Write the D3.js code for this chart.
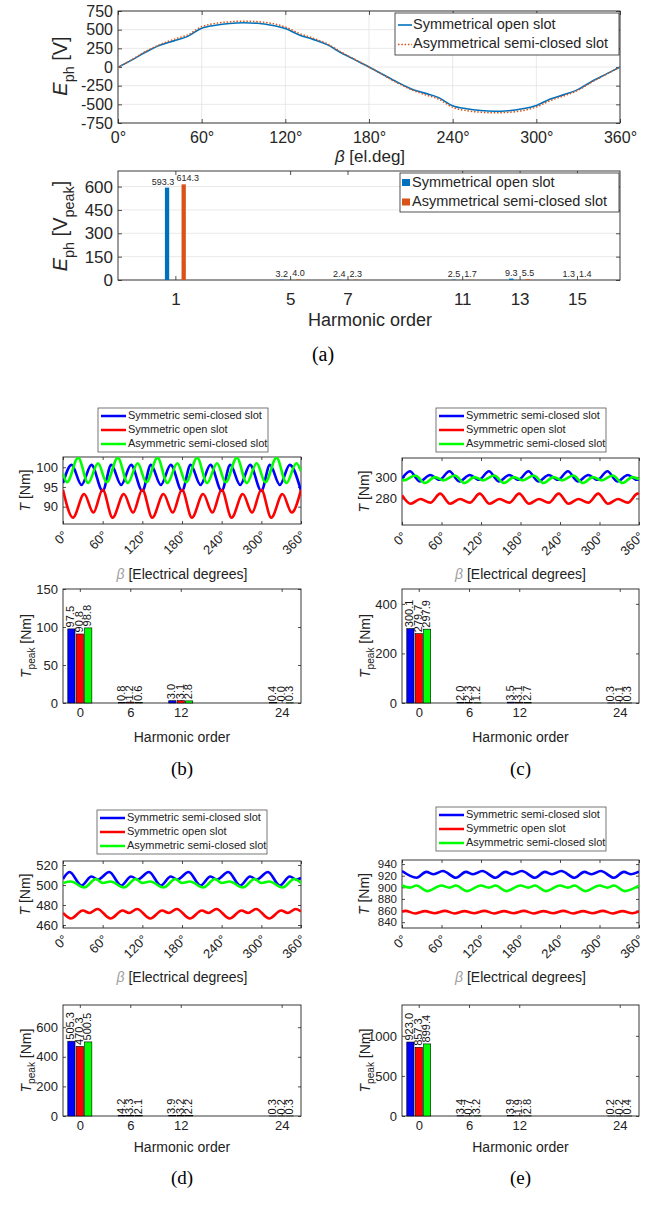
<!DOCTYPE html>
<html>
<head>
<meta charset="utf-8">
<script src="https://cdn.jsdelivr.net/npm/d3@7"></script>
<style>
  body { margin: 0; background: #fff; }
</style>
</head>
<body>
<script>
// ---------------- (a) back-EMF ----------------
const emfNames = ["Symmetrical open slot", "Asymmetrical semi-closed slot"];
// [angle el.deg, E_ph V]
const emfOpen = [[0,-5],[10,95],[20,200],[30,290],[40,350],[50,410],[60,520],[70,560],[80,583],[90,592],[100,585],[110,560],[120,515],[130,430],[140,370],[150,300],[160,190],[170,95],[180,0],[190,-100],[200,-200],[210,-290],[220,-350],[230,-410],[240,-520],[250,-560],[260,-583],[270,-592],[280,-585],[290,-560],[300,-515],[310,-430],[320,-370],[330,-300],[340,-190],[350,-95],[360,0]];
const emfAsym = [[0,-5],[10,100],[20,210],[30,300],[40,370],[50,430],[60,540],[70,585],[80,605],[90,614],[100,607],[110,585],[120,535],[130,450],[140,385],[150,310],[160,200],[170,100],[180,0],[190,-105],[200,-210],[210,-300],[220,-370],[230,-430],[240,-540],[250,-585],[260,-605],[270,-614],[280,-607],[290,-585],[300,-535],[310,-450],[320,-385],[330,-310],[340,-200],[350,-100],[360,0]];
const emfOrders = [1, 5, 7, 11, 13, 15];
const emfOpenPeak = [593.3, 3.2, 2.4, 2.5, 9.3, 1.3];
const emfAsymPeak = [614.3, 4.0, 2.3, 1.7, 5.5, 1.4];
const emfYTicks = [-750, -500, -250, 0, 250, 500, 750];
const emfPeakTicks = [0, 150, 300, 450, 600];
const angleTicks = [0, 60, 120, 180, 240, 300, 360];

// ---------------- (b)-(e) torque ----------------
const torqueNames = ["Symmetric semi-closed slot", "Symmetric open slot", "Asymmetric semi-closed slot"];
const torqueColors = ["#0000ff", "#ff0000", "#00ff00"];
const torqueOrders = [0, 6, 12, 24];

// harmonic peaks [order][semi-closed, open, asym]
const peakB = [[97.5, 90.8, 98.8], [0.8, 1.2, 0.6], [3.0, 3.1, 2.8], [0.4, 0.0, 0.3]];
const peakC = [[300.1, 279.7, 297.9], [2.0, 2.3, 1.2], [3.5, 3.1, 2.7], [0.3, 0.1, 0.3]];
const peakD = [[505.3, 470.3, 500.5], [4.2, 3.3, 2.1], [3.9, 3.2, 2.2], [0.3, 0.2, 0.3]];
const peakE = [[923.0, 857.3, 899.4], [3.4, 0.7, 3.2], [3.9, 1.9, 2.8], [0.2, 0.2, 0.4]];

// torque waveforms [angle, T Nm]
const waveBSemi = [[0,96],[13,100.6],[28,95.5],[43,100.6],[60,94],[73,100.6],[88,95.5],[103,100.6],[120,94],[133,100.6],[148,95.5],[163,100.6],[180,94],[193,100.6],[208,95.5],[223,100.6],[240,94],[253,100.6],[268,95.5],[283,100.6],[300,94],[313,100.6],[328,95.5],[343,100.6],[360,94]];
const waveBOpen = [[0,94.3],[15,87.2],[32,93.2],[46,88.5],[60,94.3],[75,87.2],[92,93.2],[106,88.5],[120,94.3],[135,87.2],[152,93.2],[166,88.5],[180,94.3],[195,87.2],[212,93.2],[226,88.5],[240,94.3],[255,87.2],[272,93.2],[286,88.5],[300,94.3],[315,87.2],[332,93.2],[346,88.5],[360,94.3]];
const waveBAsym = [[0,98.5],[6,96.2],[23,102.4],[38,96],[53,101],[66,96.2],[83,102.4],[98,96],[113,101],[126,96.2],[143,102.4],[158,96],[173,101],[186,96.2],[203,102.4],[218,96],[233,101],[246,96.2],[263,102.4],[278,96],[293,101],[306,96.2],[323,102.4],[338,96],[353,101],[360,99]];

const waveCSemi = [[0,298.5],[12,305.5],[27,296],[43,302],[57,297.5],[72,305.5],[87,296],[103,302],[117,297.5],[132,305.5],[147,296],[163,302],[177,297.5],[192,305.5],[207,296],[223,302],[237,297.5],[252,305.5],[267,296],[283,302],[297,297.5],[312,305.5],[327,296],[343,302],[357,297.5],[360,298]];
const waveCOpen = [[0,283],[13,275],[28,279.5],[43,276],[58,284.5],[73,275],[88,279.5],[103,276],[118,284.5],[133,275],[148,279.5],[163,276],[178,284.5],[193,275],[208,279.5],[223,276],[238,284.5],[253,275],[268,279.5],[283,276],[298,284.5],[313,275],[328,279.5],[343,276],[358,284.5],[360,284.3]];
const waveCAsym = [[0,298],[3,297],[20,301.5],[35,294.5],[50,300],[63,297],[80,301.5],[95,294.5],[110,300],[123,297],[140,301.5],[155,294.5],[170,300],[183,297],[200,301.5],[215,294.5],[230,300],[243,297],[260,301.5],[275,294.5],[290,300],[303,297],[320,301.5],[335,294.5],[350,300],[360,298]];

const waveDSemi = [[0,506],[10,513],[28,499.5],[43,508.5],[53,505.5],[70,513],[88,499.5],[103,508.5],[113,505.5],[130,513],[148,499.5],[163,508.5],[173,505.5],[190,513],[208,499.5],[223,508.5],[233,505.5],[250,513],[268,499.5],[283,508.5],[293,505.5],[310,513],[328,499.5],[343,508.5],[353,505.5],[360,507]];
const waveDOpen = [[0,472],[12,466.5],[30,474.5],[40,472],[52,476],[72,466.5],[90,474.5],[100,472],[112,476],[132,466.5],[150,474.5],[160,472],[172,476],[192,466.5],[210,474.5],[220,472],[232,476],[252,466.5],[270,474.5],[280,472],[292,476],[312,466.5],[330,474.5],[340,472],[352,476],[360,473.5]];
const waveDAsym = [[0,502],[12,503.5],[32,497.5],[50,506],[60,502],[72,503.5],[92,497.5],[110,506],[120,502],[132,503.5],[152,497.5],[170,506],[180,502],[192,503.5],[212,497.5],[230,506],[240,502],[252,503.5],[272,497.5],[290,506],[300,502],[312,503.5],[332,497.5],[350,506],[360,502]];

const waveESemi = [[0,928],[22,916.5],[37,926.5],[48,922.5],[62,928],[82,916.5],[97,926.5],[108,922.5],[122,928],[142,916.5],[157,926.5],[168,922.5],[182,928],[202,916.5],[217,926.5],[228,922.5],[242,928],[262,916.5],[277,926.5],[288,922.5],[302,928],[322,916.5],[337,926.5],[348,922.5],[360,927]];
const waveEOpen = [[0,858],[5,859.5],[20,855],[35,859],[50,855.5],[65,859.5],[80,855],[95,859],[110,855.5],[125,859.5],[140,855],[155,859],[170,855.5],[185,859.5],[200,855],[215,859],[230,855.5],[245,859.5],[260,855],[275,859],[290,855.5],[305,859.5],[320,855],[335,859],[350,855.5],[360,858.5]];
const waveEAsym = [[0,903],[12,899.5],[22,903],[38,893.5],[60,903],[72,899.5],[82,903],[98,893.5],[120,903],[132,899.5],[142,903],[158,893.5],[180,903],[192,899.5],[202,903],[218,893.5],[240,903],[252,899.5],[262,903],[278,893.5],[300,903],[312,899.5],[322,903],[338,893.5],[360,903]];

// ---------------- drawing ----------------
const FONT = '"Liberation Sans", Arial, Helvetica, sans-serif';
const SERIF = '"Liberation Serif", "Times New Roman", serif';
const fmt1 = d3.format(".1f");

const svg = d3.select("body").append("svg")
  .attr("width", 647).attr("height", 1207)
  .attr("font-family", FONT);
svg.append("rect").attr("width", 647).attr("height", 1207).attr("fill", "#fff");

let clipId = 0;

// inward ticks on all four sides plus the box
function axes(g, x, y, o) {
  const [x0, x1] = x.range(), [yb, yt] = y.range();
  const t = o.tick || 4, col = o.color || "#000";
  const bottom = g.append("g").attr("transform", `translate(0,${yb})`)
    .call(d3.axisBottom(x).tickValues(o.xTicks).tickFormat(o.xFmt || (d => d))
      .tickSizeInner(-t).tickSizeOuter(0).tickPadding(o.xPad || 6));
  const left = g.append("g").attr("transform", `translate(${x0},0)`)
    .call(d3.axisLeft(y).tickValues(o.yTicks).tickFormat(o.yFmt || (d => d))
      .tickSizeInner(-t).tickSizeOuter(0).tickPadding(o.yPad || 6));
  const top = g.append("g").attr("transform", `translate(0,${yt})`)
    .call(d3.axisTop(x).tickValues(o.xTicks).tickFormat("").tickSizeInner(-t).tickSizeOuter(0));
  const right = g.append("g").attr("transform", `translate(${x1},0)`)
    .call(d3.axisRight(y).tickValues(o.yTicks).tickFormat("").tickSizeInner(-t).tickSizeOuter(0));
  [bottom, left, top, right].forEach(a => {
    a.attr("font-family", FONT).attr("font-size", o.font);
    a.select(".domain").remove();
    a.selectAll("line").attr("stroke", col).attr("stroke-width", 0.8);
    a.selectAll("text").attr("fill", col);
  });
  left.selectAll("text").attr("font-size", o.yFont || o.font);
  g.append("rect").attr("x", x0).attr("y", yt).attr("width", x1 - x0).attr("height", yb - yt)
    .attr("fill", "none").attr("stroke", col).attr("stroke-width", 0.9);
  return { bottom, left };
}

function clip(x, y) {
  const id = "clip" + (clipId++);
  const [x0, x1] = x.range(), [yb, yt] = y.range();
  svg.append("clipPath").attr("id", id).append("rect")
    .attr("x", x0).attr("y", yt).attr("width", x1 - x0).attr("height", yb - yt);
  return `url(#${id})`;
}

// rich label: parts = [[text, style]] style: i (italic), sub, g (gray)
function richText(g, x, y, parts, size, rotate, fill) {
  const t = g.append("text").attr("x", x).attr("y", y)
    .attr("text-anchor", "middle").attr("dominant-baseline", "middle")
    .attr("font-size", size).attr("fill", fill || "#000");
  if (rotate) t.attr("transform", `rotate(-90,${x},${y})`);
  parts.forEach(([s, st]) => {
    const ts = t.append("tspan").text(s);
    if (st && st.includes("i")) ts.attr("font-style", "italic");
    if (st && st.includes("sub")) ts.attr("baseline-shift", "sub").attr("font-size", size * 0.72);
    if (st && st.includes("g")) ts.attr("fill", "#a0a0a0");
  });
  return t;
}

// ---------- (a) top: waveform ----------
(function () {
  const g = svg.append("g");
  const x = d3.scaleLinear([0, 360], [118, 620]);
  const y = d3.scaleLinear([-750, 750], [123, 11]);
  // grid
  g.selectAll(".gx").data(angleTicks).join("line")
    .attr("x1", d => x(d)).attr("x2", d => x(d)).attr("y1", 11).attr("y2", 123)
    .attr("stroke", "#e3e3e3").attr("stroke-width", 0.8);
  g.selectAll(".gy").data(emfYTicks).join("line")
    .attr("x1", 118).attr("x2", 620).attr("y1", d => y(d)).attr("y2", d => y(d))
    .attr("stroke", "#e3e3e3").attr("stroke-width", 0.8);
  const ax = axes(g, x, y, { xTicks: angleTicks, yTicks: emfYTicks, xFmt: d => d + "°", font: 16, color: "#262626", xPad: 10, yPad: 5, tick: 4 });
  ax.bottom.selectAll("text").attr("dy", "0.6em");
  const line = d3.line().x(d => x(d[0])).y(d => y(d[1])).curve(d3.curveMonotoneX);
  const cp = clip(x, y);
  g.append("path").datum(emfOpen).attr("d", line).attr("fill", "none")
    .attr("stroke", "#0072BD").attr("stroke-width", 1.6).attr("clip-path", cp);
  g.append("path").datum(emfAsym).attr("d", line).attr("fill", "none")
    .attr("stroke", "#D95319").attr("stroke-width", 1.5).attr("stroke-dasharray", "1.5,1.8").attr("clip-path", cp);
  richText(g, 62, 66, [["E", "i"], ["ph", "sub"], [" [V]", ""]], 20, true, "#262626");
  richText(g, 370, 158, [["β", "i"], [" [el.deg]", ""]], 17, false, "#262626");
  // legend
  const lg = g.append("g");
  lg.append("rect").attr("x", 395).attr("y", 13).attr("width", 224).attr("height", 42)
    .attr("fill", "#fff").attr("stroke", "#262626").attr("stroke-width", 0.8);
  [["#0072BD", null], ["#D95319", "1.5,1.8"]].forEach((s, i) => {
    const yy = 25 + i * 19.5;
    lg.append("line").attr("x1", 398).attr("x2", 412).attr("y1", yy).attr("y2", yy)
      .attr("stroke", s[0]).attr("stroke-width", 1.6).attr("stroke-dasharray", s[1]);
    lg.append("text").attr("x", 413).attr("y", yy).attr("dominant-baseline", "middle")
      .attr("font-size", 14.5).attr("fill", "#262626").text(emfNames[i]);
  });
})();

// ---------- (a) bottom: harmonics ----------
(function () {
  const g = svg.append("g");
  const x = d3.scaleLinear([-1, 16.5], [118, 620]);
  const y = d3.scaleLinear([0, 700], [280, 171]);
  g.selectAll(".gy").data(emfPeakTicks).join("line")
    .attr("x1", 118).attr("x2", 620).attr("y1", d => y(d)).attr("y2", d => y(d))
    .attr("stroke", "#e3e3e3").attr("stroke-width", 0.8);
  const ax = axes(g, x, y, { xTicks: emfOrders, yTicks: emfPeakTicks, font: 17, color: "#262626", xPad: 12, yPad: 5, tick: 4 });
  ax.bottom.selectAll("text").attr("dy", "0.75em");
  const off = 0.29, bw = x(0.15) - x(0);
  const series = [[emfOpenPeak, "#0072BD", -1], [emfAsymPeak, "#D95319", 1]];
  series.forEach(([vals, col, s]) => {
    g.selectAll(null).data(vals).join("rect")
      .attr("x", (d, i) => x(emfOrders[i] + s * off) - bw / 2)
      .attr("width", bw)
      .attr("y", d => y(d)).attr("height", d => y(0) - y(d))
      .attr("fill", col);
    g.selectAll(null).data(vals).join("text")
      .attr("x", (d, i) => x(emfOrders[i] + s * off) + (i === 0 ? s * 4 : 0))
      .attr("y", d => y(d) - 3)
      .attr("text-anchor", "middle").attr("font-size", 9).attr("fill", "#262626")
      .text(d => fmt1(d));
  });
  richText(g, 62, 226, [["E", "i"], ["ph", "sub"], [" [V", ""], ["peak", "sub"], ["]", ""]], 20, true, "#262626");
  g.append("text").attr("x", 370).attr("y", 321).attr("text-anchor", "middle")
    .attr("dominant-baseline", "middle").attr("font-size", 18).attr("fill", "#262626").text("Harmonic order");
  const lg = g.append("g");
  lg.append("rect").attr("x", 400).attr("y", 173).attr("width", 219).attr("height", 39)
    .attr("fill", "#fff").attr("stroke", "#262626").attr("stroke-width", 0.8);
  ["#0072BD", "#D95319"].forEach((c, i) => {
    const yy = 183 + i * 19.5;
    lg.append("rect").attr("x", 402).attr("y", yy - 4).attr("width", 8).attr("height", 7).attr("fill", c);
    lg.append("text").attr("x", 412).attr("y", yy).attr("dominant-baseline", "middle")
      .attr("font-size", 14.5).attr("fill", "#262626").text(emfNames[i]);
  });
  svg.append("text").attr("x", 323).attr("y", 356).attr("text-anchor", "middle")
    .attr("dominant-baseline", "middle").attr("font-family", SERIF).attr("font-size", 20).text("(a)");
})();

// ---------- (b)-(e) torque panels ----------
const panels = [
  { tag: "(b)", left: 63, right: 301, wTop: 457, wBot: 524, wDom: [85.6, 102.6], wTicks: [90, 95, 100],
    betaY: 575, bTop: 589, bBot: 703, bMax: 150, bTicks: [0, 50, 100, 150], lx: 98, ly: 408, hoY: 738, capY: 771,
    waves: [waveBSemi, waveBOpen, waveBAsym], peaks: peakB },
  { tag: "(c)", left: 402, right: 639, wTop: 458, wBot: 525, wDom: [255, 318], wTicks: [280, 300],
    betaY: 575, bTop: 589, bBot: 703, bMax: 460, bTicks: [0, 200, 400], lx: 436, ly: 408, hoY: 738, capY: 771,
    waves: [waveCSemi, waveCOpen, waveCAsym], peaks: peakC },
  { tag: "(d)", left: 63, right: 301, wTop: 861, wBot: 928, wDom: [457, 524], wTicks: [460, 480, 500, 520],
    betaY: 978, bTop: 1005, bBot: 1116, bMax: 750, bTicks: [0, 200, 400, 600], lx: 97, ly: 810, hoY: 1148, capY: 1180,
    waves: [waveDSemi, waveDOpen, waveDAsym], peaks: peakD },
  { tag: "(e)", left: 402, right: 639, wTop: 860, wBot: 928, wDom: [830, 947], wTicks: [840, 860, 880, 900, 920, 940],
    betaY: 978, bTop: 1005, bBot: 1116, bMax: 1385, bTicks: [0, 500, 1000], lx: 436, ly: 807, hoY: 1148, capY: 1180, yFont: 11.5,
    waves: [waveESemi, waveEOpen, waveEAsym], peaks: peakE }
];

panels.forEach(p => {
  const g = svg.append("g");
  const cx = (p.left + p.right) / 2;

  // legend
  const lg = g.append("g");
  lg.append("rect").attr("x", p.lx).attr("y", p.ly).attr("width", 170).attr("height", 44)
    .attr("fill", "#fff").attr("stroke", "#555").attr("stroke-width", 0.8);
  torqueNames.forEach((n, i) => {
    const yy = p.ly + 8 + i * 14;
    lg.append("line").attr("x1", p.lx + 3).attr("x2", p.lx + 28).attr("y1", yy).attr("y2", yy)
      .attr("stroke", torqueColors[i]).attr("stroke-width", 2.5);
    lg.append("text").attr("x", p.lx + 30).attr("y", yy).attr("dominant-baseline", "middle")
      .attr("font-size", 11).attr("fill", "#222").text(n);
  });

  // waveform
  const x = d3.scaleLinear([0, 360], [p.left, p.right]);
  const y = d3.scaleLinear(p.wDom, [p.wBot, p.wTop]);
  const ax = axes(g, x, y, { xTicks: angleTicks, yTicks: p.wTicks, xFmt: d => d + "°", font: 13, yFont: p.yFont, color: "#222", yPad: 5, tick: 3 });
  ax.bottom.selectAll("text")
    .attr("y", 0).attr("dy", "0.35em").attr("x", 0)
    .attr("text-anchor", "end").attr("transform", "translate(2,9) rotate(-45)");
  const line = d3.line().x(d => x(d[0])).y(d => y(d[1])).curve(d3.curveMonotoneX);
  const cp = clip(x, y);
  p.waves.forEach((w, i) => {
    g.append("path").datum(w).attr("d", line).attr("fill", "none")
      .attr("stroke", torqueColors[i]).attr("stroke-width", 2.6).attr("clip-path", cp);
  });
  richText(g, p.left - 37, (p.wTop + p.wBot) / 2, [["T", "i"], [" [Nm]", ""]], 14, true, "#222");
  richText(g, cx, p.betaY, [["β", "ig"], [" [Electrical degrees]", ""]], 14, false, "#222");

  // harmonic bars
  const xb = d3.scaleLinear([-2, 26.3], [p.left, p.right]);
  const yb = d3.scaleLinear([0, p.bMax], [p.bBot, p.bTop]);
  axes(g, xb, yb, { xTicks: torqueOrders, yTicks: p.bTicks, font: 13, color: "#222", yPad: 5, xPad: 5, tick: 3 });
  const bw = xb(0.86) - xb(0);
  const flat = [];
  p.peaks.forEach((row, k) => row.forEach((v, s) => flat.push({ order: torqueOrders[k], s, v })));
  g.selectAll(null).data(flat).join("rect")
    .attr("x", d => xb(d.order + (d.s - 1)) - bw / 2).attr("width", bw)
    .attr("y", d => yb(d.v)).attr("height", d => yb(0) - yb(d.v))
    .attr("fill", d => torqueColors[d.s]).attr("stroke", "#000").attr("stroke-width", 0.6);
  g.selectAll(null).data(flat).join("text")
    .attr("transform", d => `translate(${xb(d.order + (d.s - 1))},${yb(d.v) - 1.5}) rotate(-90)`)
    .attr("dominant-baseline", "middle").attr("font-size", 11).attr("fill", "#111")
    .text(d => fmt1(d.v));
  richText(g, p.left - 36, (p.bTop + p.bBot) / 2, [["T", "i"], ["peak", "sub"], [" [Nm]", ""]], 14, true, "#222");
  g.append("text").attr("x", cx).attr("y", p.hoY).attr("text-anchor", "middle")
    .attr("dominant-baseline", "middle").attr("font-size", 14).attr("fill", "#222").text("Harmonic order");
  svg.append("text").attr("x", cx).attr("y", p.capY).attr("text-anchor", "middle")
    .attr("dominant-baseline", "middle").attr("font-family", SERIF).attr("font-size", 19).text(p.tag);
});
</script>
</body>
</html>
